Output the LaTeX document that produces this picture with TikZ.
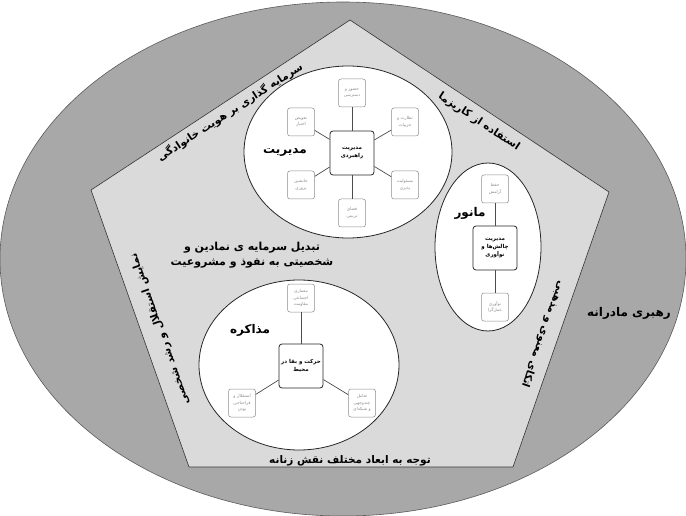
\documentclass[tikz,border=0pt]{standalone}
\usepackage{fontspec}
\usepackage{tikz}
\usetikzlibrary{positioning}
\newfontfamily\fafont[Script=Arabic]{DejaVu Sans}
\TeXXeTstate=1
\newcommand{\fa}[1]{\beginR #1\endR}
\definecolor{ringgray}{RGB}{168,168,168}
\definecolor{pentgray}{RGB}{218,218,218}
\definecolor{leafgray}{RGB}{140,140,140}
\definecolor{edgegray}{RGB}{90,90,90}
\tikzset{
  ring/.style={fill=ringgray, draw=edgegray, line width=0.6pt},
  pent/.style={fill=pentgray, draw=black!80, line width=0.6pt},
  zone/.style={fill=white, draw=black!85, line width=0.8pt},
  hub/.style={draw=black!85, fill=white, rounded corners=3pt, line width=0.8pt, align=center,
    minimum width=44, minimum height=44, inner sep=1pt, font=\fafont\bfseries\fontsize{5.5}{8}\selectfont},
  leaf/.style={draw=leafgray, fill=white, rounded corners=2.5pt, line width=0.5pt, align=center,
    minimum width=27, minimum height=28, inner sep=1pt, text=leafgray, font=\fafont\fontsize{4.3}{6.5}\selectfont},
  link/.style={draw=black!70, line width=0.7pt},
  zonettl/.style={font=\fafont\bfseries\fontsize{12}{14}\selectfont, inner sep=0pt},
  sidelbl/.style={font=\fafont\bfseries\fontsize{10.5}{12}\selectfont, inner sep=0pt},
  midlbl/.style={font=\fafont\bfseries\fontsize{11}{15}\selectfont, align=center, inner sep=0pt}
}

\begin{document}
\begin{tikzpicture}[x=1pt,y=-1pt]
  \useasboundingbox (0,0) rectangle (686,516);
  \draw[ring] (343,259) ellipse [x radius=343, y radius=257];
  \draw[pent] (350,20) -- (609,192) -- (513,467) -- (189,467) -- (91,190) -- cycle;
  \draw[zone] (348,152) ellipse [x radius=104, y radius=86];
  \draw[zone] (488,247) ellipse [x radius=53, y radius=84];
  \draw[zone] (299,365) ellipse [x radius=100, y radius=85];

  \node[zonettl] (mother) at (629,313) {\fa{رهبری مادرانه}};
  \node[sidelbl, rotate=33] (family) at (230,112) {\fa{سرمایه گذاری بر هویت خانوادگی}};
  \node[sidelbl, rotate=-33.6] (charisma) at (479,122) {\fa{استفاده از کاریزما}};
  \node[sidelbl, rotate=-109.3] (faith) at (543,334) {\fa{اتکای معنوی و مذهبی}};
  \node[sidelbl, rotate=109.5] (growth) at (160,329) {\fa{نمایش استقلال و رشد شخصی}};
  \node[sidelbl] (roles) at (350,461) {\fa{توجه به ابعاد مختلف نقش زنانه}};
  \node[midlbl] (capital) at (252,255) {\fa{تبدیل سرمایه ی نمادین و}\\\fa{شخصیتی به نفوذ و مشروعیت}};

  \node[zonettl] (mgmtttl) at (285,152) {\fa{مدیریت}};
  \node[hub] (mgmt) at (352,153) {\fa{مدیریت}\\\fa{راهبردی}};
  \node[leaf] (mgmtN) at (352,93) {\fa{حضور و}\\\fa{دسترسی}};
  \node[leaf] (mgmtNE) at (405,122) {\fa{نظارت و}\\\fa{جزییات}};
  \node[leaf] (mgmtSE) at (405,185) {\fa{مسئولیت}\\\fa{پذیری}};
  \node[leaf] (mgmtS) at (352,213) {\fa{فضای}\\\fa{تربیتی}};
  \node[leaf] (mgmtSW) at (301,185) {\fa{جانشین}\\\fa{پروری}};
  \node[leaf] (mgmtNW) at (301,122) {\fa{تفویض}\\\fa{اختیار}};
  \foreach \n in {N,NE,SE,S,SW,NW}
    \draw[link] (mgmt) -- (mgmt\n);

  \node[zonettl] (manttl) at (470,213) {\fa{مانور}};
  \node[hub] (man) at (495,248) {\fa{مدیریت}\\\fa{چالش‌ها و}\\\fa{نوآوری}};
  \node[leaf] (manN) at (495,189) {\fa{حفظ}\\\fa{آرامش}};
  \node[leaf] (manS) at (495,307) {\fa{نوآوری}\\\fa{عمل‌گرا}};
  \draw[link] (man) -- (manN);
  \draw[link] (man) -- (manS);

  \node[zonettl] (negttl) at (250,330) {\fa{مذاکره}};
  \node[hub] (neg) at (301,366) {\fa{حرکت و بقا در}\\\fa{محیط}};
  \node[leaf] (negN) at (301,298) {\fa{معماری}\\\fa{اجتماعی}\\\fa{مقاومت}};
  \node[leaf] (negSW) at (242,403) {\fa{استقلال و}\\\fa{فراجناحی}\\\fa{بودن}};
  \node[leaf] (negSE) at (362,403) {\fa{تعامل}\\\fa{چندوجهی}\\\fa{و شبکه‌ای}};
  \foreach \n in {N,SW,SE}
    \draw[link] (neg) -- (neg\n);
\end{tikzpicture}
\end{document}
